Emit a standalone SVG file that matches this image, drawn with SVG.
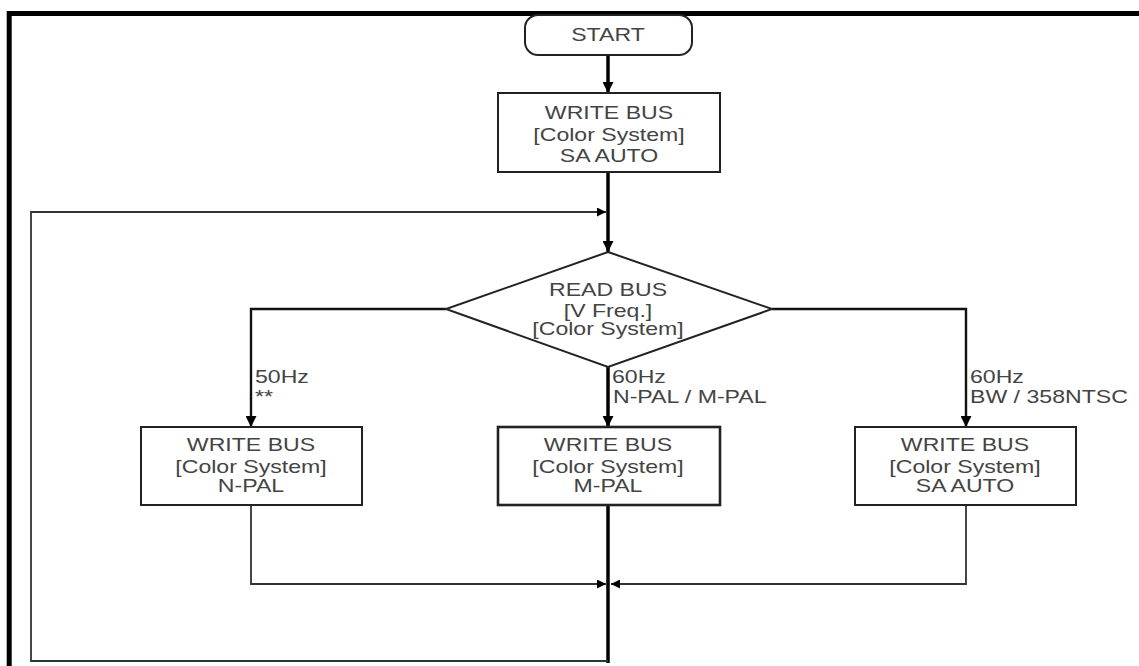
<svg xmlns="http://www.w3.org/2000/svg" width="1139" height="666" viewBox="0 0 1139 666">
<style>
  .box { fill: #fff; stroke: #222; stroke-width: 2; }
  .t { font-family: "Liberation Sans", Arial, sans-serif; font-size: 17.5px; fill: #444; }
  .c { text-anchor: middle; }
  .thick { fill: none; stroke: #000; stroke-width: 3.5; }
  .mid { fill: none; stroke: #111; stroke-width: 2.4; }
  .thin { fill: none; stroke: #333; stroke-width: 1.8; }
</style>
<defs>
  <marker id="ah" viewBox="0 0 10 10" refX="10" refY="5" markerUnits="userSpaceOnUse" markerWidth="11" markerHeight="11" orient="auto">
    <path d="M0,0 L10,5 L0,10 z" fill="#000"/>
  </marker>
  <marker id="ahs" viewBox="0 0 10 10" refX="10" refY="5" markerUnits="userSpaceOnUse" markerWidth="10" markerHeight="9" orient="auto">
    <path d="M0,0 L10,5 L0,10 z" fill="#000"/>
  </marker>
</defs>

<path d="M9.2,666 V13.5 H1139" fill="none" stroke="#000" stroke-width="5"/>

<g id="connectors">
  <path class="thick" d="M608,55 V93" marker-end="url(#ah)"/>
  <path class="thick" d="M608,172 V252" marker-end="url(#ah)"/>
  <path class="thick" d="M608,367 V427" marker-end="url(#ah)"/>
  <path class="thick" d="M608,505 V663"/>
  <path class="thin" d="M608,661 H31 V212 H606" marker-end="url(#ahs)"/>
  <path class="mid" d="M446,309 H251 V427" marker-end="url(#ah)"/>
  <path class="mid" d="M772,309 H966 V427" marker-end="url(#ah)"/>
  <path class="thin" d="M251,505 V584 H606" marker-end="url(#ahs)"/>
  <path class="thin" d="M966,505 V584 H611" marker-end="url(#ahs)"/>
  <text class="t" transform="translate(255,382.7) scale(1.32,1)">50Hz</text>
  <text class="t" transform="translate(255,402.5) scale(1.32,1)">**</text>
  <text class="t" transform="translate(612,382.7) scale(1.32,1)">60Hz</text>
  <text class="t" transform="translate(613,402.7) scale(1.32,1)">N-PAL / M-PAL</text>
  <text class="t" transform="translate(970,382.7) scale(1.32,1)">60Hz</text>
  <text class="t" transform="translate(970,402.7) scale(1.32,1)">BW / 358NTSC</text>
</g>

<g id="start">
  <rect class="box" x="525" y="15" width="167" height="40" rx="13" ry="13"/>
  <text class="t c" transform="translate(608,40.7) scale(1.32,1)">START</text>
</g>

<g id="write1">
  <rect class="box" x="498" y="93" width="222" height="79"/>
  <text class="t c" transform="translate(609,119) scale(1.32,1)">WRITE BUS</text>
  <text class="t c" transform="translate(609,140.5) scale(1.32,1)">[Color System]</text>
  <text class="t c" transform="translate(609,162) scale(1.32,1)">SA AUTO</text>
</g>

<g id="read">
  <polygon class="box" points="608,252 772,309 608,367 446,309"/>
  <text class="t c" transform="translate(608,295.7) scale(1.32,1)">READ BUS</text>
  <text class="t c" transform="translate(608,316.7) scale(1.32,1)">[V Freq.]</text>
  <text class="t c" transform="translate(608,335) scale(1.32,1)">[Color System]</text>
</g>

<g id="npal">
  <rect class="box" x="141" y="427" width="221" height="78"/>
  <text class="t c" transform="translate(251,450.7) scale(1.32,1)">WRITE BUS</text>
  <text class="t c" transform="translate(251,473.3) scale(1.32,1)">[Color System]</text>
  <text class="t c" transform="translate(251,492.3) scale(1.32,1)">N-PAL</text>
</g>

<g id="mpal">
  <rect class="box" x="498" y="427" width="222" height="78" style="stroke-width:2.6"/>
  <text class="t c" transform="translate(608,450.7) scale(1.32,1)">WRITE BUS</text>
  <text class="t c" transform="translate(608,473.3) scale(1.32,1)">[Color System]</text>
  <text class="t c" transform="translate(608,492.3) scale(1.32,1)">M-PAL</text>
</g>

<g id="saauto">
  <rect class="box" x="855" y="427" width="221" height="78"/>
  <text class="t c" transform="translate(965,450.7) scale(1.32,1)">WRITE BUS</text>
  <text class="t c" transform="translate(965,473.3) scale(1.32,1)">[Color System]</text>
  <text class="t c" transform="translate(965,492.3) scale(1.32,1)">SA AUTO</text>
</g>
</svg>
